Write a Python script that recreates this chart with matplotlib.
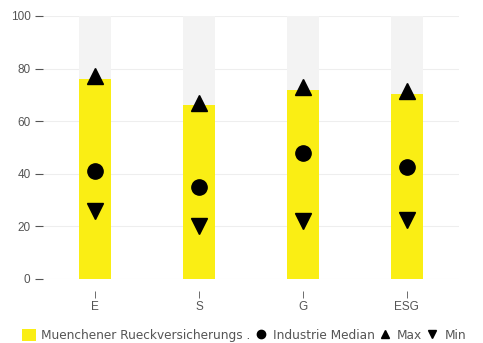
import matplotlib.pyplot as plt
from matplotlib.lines import Line2D
from matplotlib.patches import Patch

categories = ['E', 'S', 'G', 'ESG']
company = [76, 66, 72, 70.5]
median = [41, 35, 48, 42.5]
max_vals = [77, 67, 73, 71.5]
min_vals = [26, 20, 22, 22.5]

yellow = '#FAEE14'
grey = '#555555'

fig = plt.figure(figsize=(4.83, 3.43), dpi=100)
ax = fig.add_axes([0.089, 0.1866, 0.861, 0.7668])

x = range(len(categories))
# grauer Hintergrund bis 100
ax.bar(x, [100] * len(categories), width=0.31, color='#F3F3F3', zorder=1)
ax.bar(x, company, width=0.31, color=yellow, zorder=2)
ax.plot(x, median, 'o', color='black', markersize=11, zorder=3, linestyle='none')
ax.plot(x, max_vals, '^', color='black', markersize=12, zorder=3, linestyle='none')
ax.plot(x, min_vals, 'v', color='black', markersize=12, zorder=3, linestyle='none')

ax.set_xlim(-0.5, 3.5)
ax.set_ylim(0, 100)
ax.set_yticks([0, 20, 40, 60, 80, 100])
ax.yaxis.grid(True, color='#EEEEEE', linewidth=0.8, zorder=0)
ax.set_axisbelow(True)

for s in ['top', 'right', 'left']:
    ax.spines[s].set_visible(False)
ax.spines['bottom'].set_position(('outward', 9))
ax.spines['bottom'].set_visible(False)

ax.set_xticks(list(x))
ax.set_xticklabels(categories)
ax.tick_params(axis='y', length=6, width=0.8, color=grey, labelcolor=grey,
               labelsize=8.5, pad=3)
ax.tick_params(axis='x', length=5, width=0.6, color=grey, labelcolor=grey,
               labelsize=8.5, pad=2)
for lab in ax.get_xticklabels() + ax.get_yticklabels():
    lab.set_family('Liberation Sans')

handles = [
    Patch(facecolor=yellow, edgecolor='none'),
    Line2D([], [], marker='o', color='black', linestyle='none', markersize=6),
    Line2D([], [], marker='^', color='black', linestyle='none', markersize=6),
    Line2D([], [], marker='v', color='black', linestyle='none', markersize=6),
]
labels = ['Muenchener Rueckversicherungs .', 'Industrie Median', 'Max', 'Min']
fig.legend(handles, labels, loc='lower left', bbox_to_anchor=(0.025, -0.025),
           ncol=4, frameon=False, handlelength=1.2, handleheight=1.1,
           handletextpad=0.4, columnspacing=0.25, labelcolor=grey,
           borderpad=0.3, prop={'family': 'DejaVu Sans', 'size': 8.7})

plt.savefig('out.png', dpi=100)
